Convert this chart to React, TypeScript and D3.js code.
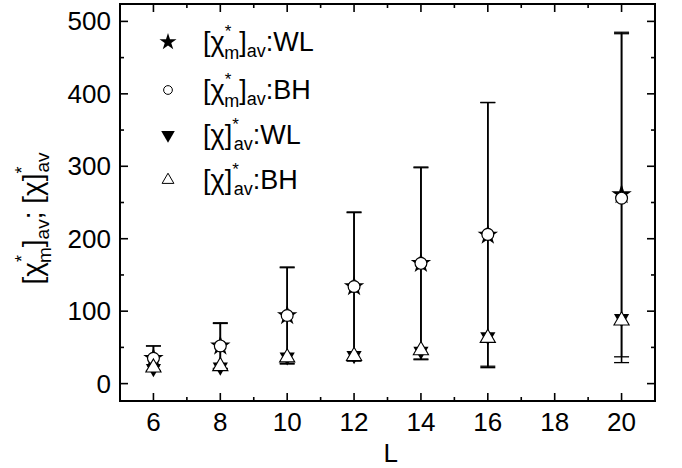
import React, { useEffect, useRef } from 'react';
import * as d3 from 'd3';

// system size L
const sizes = [6, 8, 10, 12, 14, 16, 20];
// [chi*_m]_av
const chiMWL = [35, 52, 94, 134, 166, 205, 261];
const chiMBH = [35, 52, 94, 134, 166, 206, 256];
const errWL = [17, 32, 67, 103, 133, 183, 224];
const errBH = [17, 31, 66, 102, 132, 182, 227];
// [chi]*_av
const chiWL = [21, 23, 37, 39, 45, 65, 90];
const chiBH = [22, 24, 36, 38, 46, 63, 87];

const xTicks = [6, 8, 10, 12, 14, 16, 18, 20];
const yTicks = [0, 100, 200, 300, 400, 500];

const FONT = "'Liberation Sans', Arial, sans-serif";
const FS = 26;

export default function App() {
  const ref = useRef<SVGSVGElement>(null);

  useEffect(() => {
    const w = 682, h = 468;
    const m = { top: 4, right: 27, bottom: 67, left: 120 };
    const svg = d3.select(ref.current);
    svg.selectAll('*').remove();

    const x = d3.scaleLinear().domain([5, 21]).range([m.left, w - m.right]);
    const y = d3.scaleLinear().domain([-24, 524]).range([h - m.bottom, m.top]);

    const g = svg.append('g');

    // error bars on [chi*_m]_av
    const drawErr = (vals: number[], errs: number[]) => {
      sizes.forEach((L, i) => {
        const lo = vals[i] - errs[i], hi = vals[i] + errs[i];
        g.append('line')
          .attr('x1', x(L)).attr('x2', x(L))
          .attr('y1', y(lo)).attr('y2', y(hi))
          .attr('stroke', '#000').attr('stroke-width', 1.6);
        [lo, hi].forEach(v => {
          g.append('line')
            .attr('x1', x(L) - 7.5).attr('x2', x(L) + 7.5)
            .attr('y1', y(v)).attr('y2', y(v))
            .attr('stroke', '#000').attr('stroke-width', 1.3);
        });
      });
    };
    drawErr(chiMWL, errWL);
    drawErr(chiMBH, errBH);

    const star = d3.symbol(d3.symbolStar, 130)();
    const circ = d3.symbol(d3.symbolCircle, 110)();
    const tri = d3.symbol(d3.symbolTriangle, 100)();

    // markers
    sizes.forEach((L, i) => {
      g.append('path').attr('d', star)
        .attr('transform', `translate(${x(L)},${y(chiMWL[i])})`)
        .attr('fill', '#000');
      g.append('path').attr('d', circ)
        .attr('transform', `translate(${x(L)},${y(chiMBH[i])})`)
        .attr('fill', '#fff').attr('stroke', '#000').attr('stroke-width', 1.2);
      g.append('path').attr('d', tri)
        .attr('transform', `translate(${x(L)},${y(chiWL[i])}) rotate(180)`)
        .attr('fill', '#000');
      g.append('path').attr('d', tri)
        .attr('transform', `translate(${x(L)},${y(chiBH[i])})`)
        .attr('fill', '#fff').attr('stroke', '#000').attr('stroke-width', 1.1);
    });

    // frame
    const x0 = x.range()[0], x1 = x.range()[1];
    const y0 = y.range()[0], y1 = y.range()[1];
    svg.append('rect')
      .attr('x', x0).attr('y', y1)
      .attr('width', x1 - x0).attr('height', y0 - y1)
      .attr('fill', 'none').attr('stroke', '#000').attr('stroke-width', 2);

    // x ticks (inward, bottom and top)
    d3.range(5, 22).forEach(v => {
      const len = v % 2 === 0 ? 8 : 4;
      svg.append('line').attr('x1', x(v)).attr('x2', x(v))
        .attr('y1', y0).attr('y2', y0 - len).attr('stroke', '#000').attr('stroke-width', 1.6);
      svg.append('line').attr('x1', x(v)).attr('x2', x(v))
        .attr('y1', y1).attr('y2', y1 + len).attr('stroke', '#000').attr('stroke-width', 1.6);
    });
    xTicks.forEach(v => {
      svg.append('text').attr('x', x(v)).attr('y', y0 + 30)
        .attr('text-anchor', 'middle').attr('font-family', FONT)
        .attr('font-size', FS).text(v);
    });

    // y ticks (inward, left and right)
    d3.range(0, 501, 50).forEach(v => {
      const len = v % 100 === 0 ? 8 : 4;
      svg.append('line').attr('x1', x0).attr('x2', x0 + len)
        .attr('y1', y(v)).attr('y2', y(v)).attr('stroke', '#000').attr('stroke-width', 1.6);
      svg.append('line').attr('x1', x1).attr('x2', x1 - len)
        .attr('y1', y(v)).attr('y2', y(v)).attr('stroke', '#000').attr('stroke-width', 1.6);
    });
    yTicks.forEach(v => {
      svg.append('text').attr('x', x0 - 9).attr('y', y(v) + 9)
        .attr('text-anchor', 'end').attr('font-family', FONT)
        .attr('font-size', FS).text(v);
    });

    // axis titles
    svg.append('text').attr('x', x(13.1)).attr('y', 462)
      .attr('text-anchor', 'middle').attr('font-family', FONT)
      .attr('font-size', FS).text('L');

    const yl = svg.append('text')
      .attr('transform', `translate(42,${(y0 + y1) / 2 + 16}) rotate(-90)`)
      .attr('text-anchor', 'middle').attr('font-family', FONT).attr('font-size', 28);
    yl.append('tspan').text('[χ');
    yl.append('tspan').attr('font-size', 18).attr('dy', -14).text('*');
    yl.append('tspan').attr('font-size', 19).attr('dx', -8).attr('dy', 23).text('m');
    yl.append('tspan').attr('dy', -9).text(']');
    yl.append('tspan').attr('font-size', 19).attr('dy', 7).text('av');
    yl.append('tspan').attr('dy', -7).text('; [χ]');
    yl.append('tspan').attr('font-size', 18).attr('dy', -14).text('*');
    yl.append('tspan').attr('font-size', 19).attr('dx', -6).attr('dy', 21).text('av');

    // legend
    const lx = 168, tx = 203;
    const rows = [42, 90, 135, 180];
    const legendSym = [
      { d: d3.symbol(d3.symbolStar, 90)(), fill: '#000', rot: 0 },
      { d: d3.symbol(d3.symbolCircle, 60)(), fill: '#fff', rot: 0 },
      { d: d3.symbol(d3.symbolTriangle, 80)(), fill: '#000', rot: 180 },
      { d: d3.symbol(d3.symbolTriangle, 60)(), fill: '#fff', rot: 0 },
    ];
    legendSym.forEach((s, i) => {
      svg.append('path').attr('d', s.d)
        .attr('transform', `translate(${lx},${rows[i]}) rotate(${s.rot})`)
        .attr('fill', s.fill).attr('stroke', s.fill === '#fff' ? '#000' : 'none')
        .attr('stroke-width', 1);
    });
    const legTxt = (i: number, suffix: string, isM: boolean) => {
      const t = svg.append('text').attr('x', tx).attr('y', rows[i] + 9)
        .attr('font-family', FONT).attr('font-size', 27);
      if (isM) {
        t.append('tspan').text('[χ');
        t.append('tspan').attr('font-size', 17).attr('dy', -14).text('*');
        t.append('tspan').attr('font-size', 18).attr('dx', -7).attr('dy', 22).text('m');
        t.append('tspan').attr('dy', -8).text(']');
        t.append('tspan').attr('font-size', 18).attr('dy', 6).text('av');
        t.append('tspan').attr('dy', -6).text(suffix);
      } else {
        t.append('tspan').text('[χ]');
        t.append('tspan').attr('font-size', 17).attr('dy', -14).text('*');
        t.append('tspan').attr('font-size', 18).attr('dx', -5).attr('dy', 20).text('av');
        t.append('tspan').attr('dy', -6).text(suffix);
      }
    };
    legTxt(0, ':WL', true);
    legTxt(1, ':BH', true);
    legTxt(2, ':WL', false);
    legTxt(3, ':BH', false);
  }, []);

  return (
    <svg ref={ref} width={682} height={468}
      style={{ position: 'absolute', left: 0, top: 0, background: '#fff' }} />
  );
}
